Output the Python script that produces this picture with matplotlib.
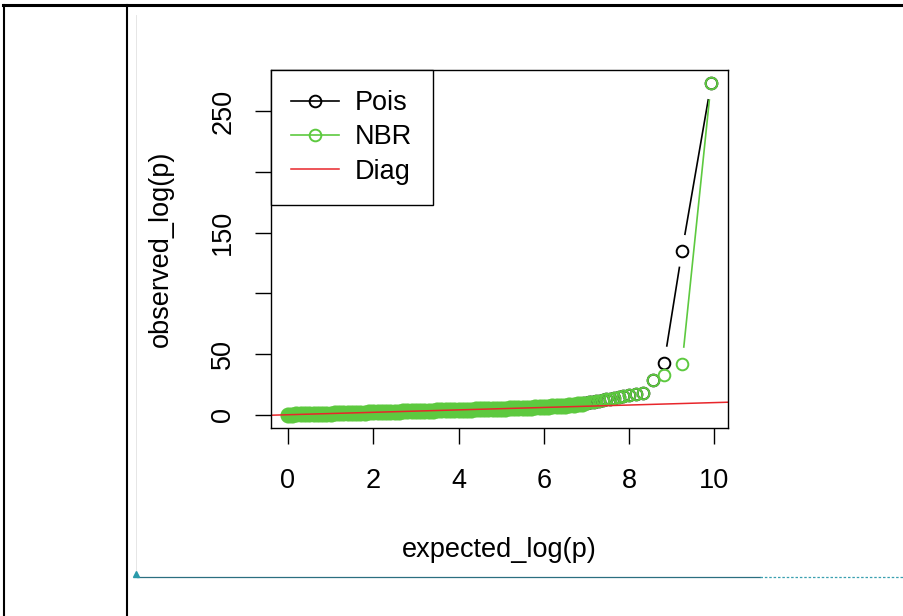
import matplotlib.pyplot as plt
from matplotlib.lines import Line2D
import numpy as np

plt.rcParams['font.family'] = ['Liberation Sans', 'DejaVu Sans']

# dense part of the QQ plot (both models overlap here)
band_expected = [0.0, 0.1, 0.2, 0.3, 0.4, 0.5, 0.6, 0.7, 0.8, 0.9,
                 1.0, 1.1, 1.2, 1.3, 1.4, 1.5, 1.6, 1.7, 1.8, 1.9,
                 2.0, 2.1, 2.2, 2.3, 2.4, 2.5, 2.6, 2.7, 2.8, 2.9,
                 3.0, 3.1, 3.2, 3.3, 3.4, 3.5, 3.6, 3.7, 3.8, 3.9,
                 4.0, 4.1, 4.2, 4.3, 4.4, 4.5, 4.6, 4.7, 4.8, 4.9,
                 5.0, 5.1, 5.2, 5.3, 5.4, 5.5, 5.6, 5.7, 5.8, 5.9,
                 6.0, 6.1, 6.2, 6.3, 6.4, 6.5, 6.6, 6.7, 6.8, 6.9]
band_observed = [0.0, 0.1, 0.2, 0.3, 0.4, 0.5, 0.6, 0.7, 0.8, 0.9,
                 1.0, 1.1, 1.2, 1.3, 1.4, 1.5, 1.6, 1.7, 1.8, 1.9,
                 2.0, 2.1, 2.2, 2.3, 2.4, 2.5, 2.6, 2.7, 2.8, 2.9,
                 3.0, 3.1, 3.2, 3.3, 3.4, 3.5, 3.6, 3.7, 3.8, 3.9,
                 4.0, 4.1, 4.2, 4.3, 4.4, 4.5, 4.6, 4.7, 4.8, 4.9,
                 5.0, 5.1, 5.2, 5.3, 5.4, 5.5, 5.7, 5.8, 6.0, 6.2,
                 6.4, 6.6, 6.8, 7.0, 7.3, 7.6, 7.9, 8.2, 8.6, 9.0]

# top ranked points
tail_expected = [9.92, 9.24, 8.82, 8.55, 8.33, 8.15, 8.00, 7.86, 7.75, 7.64,
                 7.55, 7.46, 7.38, 7.30, 7.23, 7.17, 7.11, 7.05, 7.00, 6.94]
pois_tail = [273, 135, 43, 29, 18, 17, 16.3, 15.5, 14.6, 13.9,
             13.2, 12.6, 12.1, 11.6, 11.2, 10.8, 10.4, 10.1, 9.8, 9.5]
nbr_tail = [273, 42, 33, 29, 18, 17, 16.3, 15.5, 14.6, 13.9,
            13.2, 12.6, 12.1, 11.6, 11.2, 10.8, 10.4, 10.1, 9.8, 9.5]

GREEN = '#5DC93F'
RED = '#E8262B'

fig = plt.figure(figsize=(9.04, 6.16), dpi=100)
ax = fig.add_axes([271/904, 1-428/616, 457/904, 358/616])

xmax = max(tail_expected)
ymax = max(max(pois_tail), max(nbr_tail))
ax.set_xlim(-0.04*xmax, 1.04*xmax)
ax.set_ylim(-0.04*ymax, 1.04*ymax)


def type_b(ax, x, y, color, gap=16):
    # R style type="b": segments with a gap round each point
    pts = ax.transData.transform(np.column_stack([x, y]))
    inv = ax.transData.inverted()
    for p0, p1 in zip(pts[:-1], pts[1:]):
        d = p1 - p0
        L = np.hypot(*d)
        if L <= 2*gap:
            continue
        a = inv.transform(p0 + d*gap/L)
        b = inv.transform(p1 - d*gap/L)
        ax.plot([a[0], b[0]], [a[1], b[1]], color=color, lw=1.2,
                solid_capstyle='butt')


ms, mew = 8.4, 1.4
# Pois (black) first, NBR on top
ax.plot(band_expected, band_observed, 'o', ms=ms, mew=mew, mfc='none', mec='black')
ax.plot(tail_expected, pois_tail, 'o', ms=ms, mew=mew, mfc='none', mec='black')
type_b(ax, tail_expected, pois_tail, 'black')

ax.plot(band_expected, band_observed, 'o', ms=10.2, mew=mew, mfc=GREEN, mec=GREEN)
ax.plot(tail_expected, nbr_tail, 'o', ms=ms, mew=mew, mfc='none', mec=GREEN)
type_b(ax, tail_expected, nbr_tail, GREEN)

ax.axline((0, 0), slope=1, color=RED, lw=1.1)

ax.set_xticks([0, 2, 4, 6, 8, 10])
ax.set_yticks([0, 50, 100, 150, 200, 250])
ax.set_yticklabels(['0', '50', '', '150', '', '250'])
ax.tick_params(length=11.5, width=1, labelsize=19.5, color='black')
ax.tick_params(axis='x', pad=17)
ax.tick_params(axis='y', pad=13.5)
for lab in ax.get_yticklabels():
    lab.set_rotation(90)
    lab.set_va('center')
for s in ax.spines.values():
    s.set_linewidth(1)
    s.set_color('black')

ax.set_xlabel('expected_log(p)', fontsize=19.5, labelpad=31)
ax.set_ylabel('observed_log(p)', fontsize=19.5, labelpad=26)

handles = [
    Line2D([], [], color='black', lw=1.2, marker='o', ms=ms, mew=mew, mfc='none'),
    Line2D([], [], color=GREEN, lw=1.2, marker='o', ms=ms, mew=mew, mfc='none'),
    Line2D([], [], color=RED, lw=1.1),
]
leg = ax.legend(handles, ['Pois', 'NBR', 'Diag'], loc='upper left',
                fontsize=19.5, frameon=True, fancybox=False, borderaxespad=0,
                borderpad=0.75, handlelength=1.75, handletextpad=0.6,
                labelspacing=0.3, numpoints=1)
leg.get_frame().set_edgecolor('black')
leg.get_frame().set_linewidth(1)
leg.get_frame().set_alpha(1)
# R's legend box hugs the text more tightly on the sides
fig.canvas.draw()
bb = leg.get_frame().get_bbox()
leg.get_frame().set_x(bb.x0)
leg.get_frame().set_width(bb.width - 8)

# table cell borders of the page the chart sits in
fig.add_artist(Line2D([3/904, 1], [1-5/616, 1-5/616], color='black', lw=2.2))
fig.add_artist(Line2D([4/904, 4/904], [0, 1-5/616], color='black', lw=1.5))
fig.add_artist(Line2D([127/904, 127/904], [0, 1-5/616], color='black', lw=1.5))
fig.add_artist(Line2D([136/904, 136/904], [1-575/616, 1-15/616], color='#e6e6e6', lw=0.7))
fig.add_artist(Line2D([137/904, 760/904], [1-577/616, 1-577/616], color='#2b6f80', lw=0.9))
fig.add_artist(Line2D([760/904, 1], [1-577/616, 1-577/616], color='#3aa0b0', lw=0.9,
                      linestyle=(0, (2, 1.5))))
fig.add_artist(Line2D([136/904], [1-574/616], marker='^', ms=4, color='#2a9aaa'))

plt.savefig('out.png', dpi=100)
